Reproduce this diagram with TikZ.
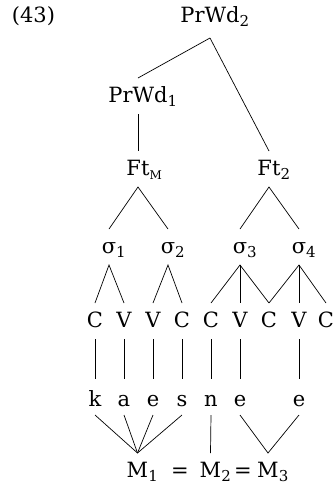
\documentclass[tikz,border=0pt]{standalone}
\usepackage{fontspec}
\setmainfont{DejaVu Serif}
\newcommand\sbs[1]{\rlap{\raisebox{-4.5pt}{\fontsize{15}{15}\selectfont #1}}}
\newcommand\sbsm[1]{\rlap{\raisebox{-4.5pt}{\fontsize{12}{12}\selectfont #1}}}
\tikzset{
  lbl/.style={anchor=base, inner sep=0pt, outer sep=0pt, text height=24pt, text depth=12pt, font=\fontsize{21}{25}\selectfont},
  seg/.style={lbl, text height=27pt, text depth=9pt},
  assoc/.style={line width=0.7pt}
}
\begin{document}
\begin{tikzpicture}[x=1pt,y=-1pt]
\useasboundingbox (0,0) rectangle (334,491);
\node[lbl] (n43) at (33.5,22) {(43)};
\node[lbl, text depth=16pt] (pw2) at (210,22) {PrWd\sbs{2}};
\node[lbl] (pw1) at (138,102) {PrWd\sbs{1}};
\node[lbl] (ftm) at (138,175) {Ft\sbsm{M}};
\node[lbl] (ft2) at (269,175) {Ft\sbs{2}};
\node[lbl] (s1) at (109,253) {σ\sbs{1}};
\node[lbl] (s2) at (168,253) {σ\sbs{2}};
\node[lbl] (s3) at (240,253) {σ\sbs{3}};
\node[lbl] (s4) at (299,253) {σ\sbs{4}};
\node[lbl] (c1) at (95,327) {C};
\node[lbl] (v1) at (124,327) {V};
\node[lbl] (v2) at (153,327) {V};
\node[lbl] (c2) at (182,327) {C};
\node[lbl] (c3) at (211,327) {C};
\node[lbl] (v3) at (240,327) {V};
\node[lbl] (c4) at (269,327) {C};
\node[lbl] (v4) at (299,327) {V};
\node[lbl] (c5) at (326,327) {C};
\node[seg] (k) at (95,406) {k};
\node[seg] (a) at (124,406) {a};
\node[seg] (e1) at (153,406) {e};
\node[seg] (s) at (182,406) {s};
\node[seg] (n) at (211,406) {n};
\node[seg] (e2) at (240,406) {e};
\node[seg] (e3) at (299,406) {e};
\node[lbl] (m1) at (137.5,477) {M\sbs{1}};
\node[lbl] (eq1) at (180,477) {=};
\node[lbl] (m2) at (210.5,477) {M\sbs{2}};
\node[lbl] (eq2) at (243,477) {=};
\node[lbl] (m3) at (268,477) {M\sbs{3}};
\draw[assoc] (pw2.south) -- (pw1.north);
\draw[assoc] (pw2.south) -- (ft2.north);
\draw[assoc] (pw1.south) -- (ftm.north);
\draw[assoc] (s1.north) -- (ftm.south) -- (s2.north);
\draw[assoc] (s3.north) -- (ft2.south) -- (s4.north);
\draw[assoc] (c1.north) -- (s1.south) -- (v1.north);
\draw[assoc] (v2.north) -- (s2.south) -- (c2.north);
\draw[assoc] (c3.north) -- (s3.south) -- (c4.north);
\draw[assoc] (s3.south) -- (v3.north);
\draw[assoc] (c4.north) -- (s4.south) -- (c5.north);
\draw[assoc] (s4.south) -- (v4.north);
\foreach \p/\q in {c1/k, v1/a, v2/e1, c2/s, c3/n, v3/e2, v4/e3}
  \draw[assoc] (\p.south) -- (\q.north);
\foreach \q in {k, a, e1, s}
  \draw[assoc] (\q.south) -- (m1.north);
\draw[assoc] (n.south) -- (m2.north);
\draw[assoc] (e2.south) -- (m3.north) -- (e3.south);
\end{tikzpicture}
\end{document}
